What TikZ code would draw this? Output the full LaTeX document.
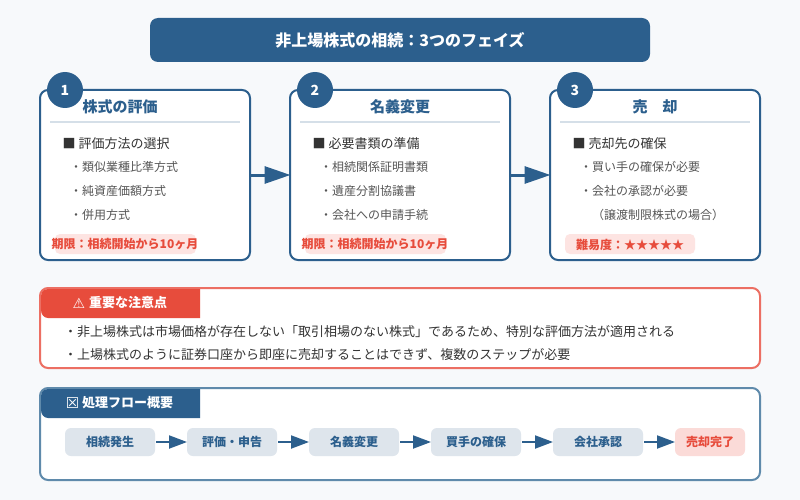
\documentclass[tikz,border=0pt]{standalone}
\usepackage{fontspec}
\setmainfont{Noto Sans CJK JP}
\newfontfamily\symfont{DejaVu Sans}
\usetikzlibrary{arrows.meta}
\definecolor{navy}{HTML}{2C5F8D}
\definecolor{redc}{HTML}{E74C3C}
\definecolor{redb}{HTML}{EC6F63}
\definecolor{blueb}{HTML}{5F8AAB}
\definecolor{bgc}{HTML}{F7F9FB}
\definecolor{sepc}{HTML}{D5DFE8}
\definecolor{tagc}{HTML}{FDE4E2}
\definecolor{pillc}{HTML}{DEE5EC}
\definecolor{pillr}{HTML}{FBDBD8}
\definecolor{ink}{HTML}{333333}
\definecolor{subc}{HTML}{555555}
\tikzset{
  x=1pt,y=-1pt,
  titlebox/.style={fill=navy,rounded corners=8pt,text=white,font=\fontsize{16}{16}\selectfont\bfseries,minimum width=500pt,minimum height=44pt,inner sep=0pt,outer sep=0pt},
  card/.style={draw=navy,line width=2pt,fill=white,rounded corners=8pt,minimum height=170pt,inner sep=0pt,outer sep=0pt},
  numc/.style={circle,fill=navy,text=white,minimum size=36pt,inner sep=0pt,font=\fontsize{14}{14}\selectfont\bfseries},
  cardtitle/.style={text=navy,font=\fontsize{15}{15}\selectfont\bfseries,inner sep=0pt},
  sect/.style={anchor=west,text=ink,font=\fontsize{13}{13}\selectfont,inner sep=0pt},
  subi/.style={anchor=west,text=subc,font=\fontsize{12}{12}\selectfont,inner sep=0pt},
  tagbox/.style={fill=tagc,rounded corners=5pt,minimum height=20pt,inner sep=0pt,outer sep=0pt},
  tagtxt/.style={text=redc,font=\fontsize{12}{12}\selectfont\bfseries,inner sep=0pt},
  sepl/.style={draw=sepc,line width=2pt},
  bigarrow/.style={draw=navy,line width=3pt,-{Triangle[length=26pt,width=17pt]},shorten >=-0.5pt},
  smallarrow/.style={draw=navy,line width=2pt,-{Triangle[length=18pt,width=13pt]}},
  panelr/.style={draw=redb,line width=2pt,fill=white,rounded corners=8pt,minimum width=720pt,minimum height=80pt,inner sep=0pt,outer sep=0pt},
  panelb/.style={draw=blueb,line width=2pt,fill=white,rounded corners=8pt,minimum width=720pt,minimum height=92pt,inner sep=0pt,outer sep=0pt},
  headtxt/.style={text=white,font=\fontsize{13}{13}\selectfont\bfseries,inner sep=0pt,anchor=west},
  bodytxt/.style={anchor=west,text=ink,font=\fontsize{13}{13}\selectfont,inner sep=0pt},
  pill/.style={fill=pillc,text=navy,rounded corners=6pt,minimum width=90pt,minimum height=28pt,inner sep=0pt,outer sep=0pt,font=\fontsize{12}{12}\selectfont\bfseries},
  pillend/.style={pill,fill=pillr,text=redc,minimum width=70pt},
}
\begin{document}
\begin{tikzpicture}
\useasboundingbox[fill=bgc] (0,0) rectangle (800,500);
\node[titlebox] (title) at (400,40) {非上場株式の相続：3つのフェイズ};
% cards
\node[card,minimum width=210pt] (c1) at (145,175) {};
\node[card,minimum width=220pt] (c2) at (400,175) {};
\node[card,minimum width=210pt] (c3) at (655,175) {};
\draw[bigarrow] (c1.east) -- (c2.west);
\draw[bigarrow] (c2.east) -- (c3.west);
% card 1
\node[numc] (n1) at (65,90) {1};
\node[cardtitle] (t1) at (120,106.5) {株式の評価};
\draw[sepl] (50,122) -- (240,122);
\node[sect] (s1) at (62.5,144) {■ 評価方法の選択};
\node[subi] (a1) at (70,167) {・類似業種比準方式};
\node[subi] (a2) at (70,191) {・純資産価額方式};
\node[subi] (a3) at (70,215) {・併用方式};
\node[tagbox,minimum width=141pt] (g1) at (125.5,244) {};
\node[tagtxt] (gt1) at (125,244.5) {期限：相続開始から10ヶ月};
% card 2
\node[numc] (n2) at (315,90) {2};
\node[cardtitle] (t2) at (400,106.5) {名義変更};
\draw[sepl] (300,122) -- (500,122);
\node[sect] (s2) at (312.5,144) {■ 必要書類の準備};
\node[subi] (b1) at (320,167) {・相続関係証明書類};
\node[subi] (b2) at (320,191) {・遺産分割協議書};
\node[subi] (b3) at (320,215) {・会社への申請手続};
\node[tagbox,minimum width=141pt] (g2) at (375.5,244) {};
\node[tagtxt] (gt2) at (375,244.5) {期限：相続開始から10ヶ月};
% card 3
\node[numc] (n3) at (575,90) {3};
\node[cardtitle] (t3) at (655,106.5) {売\hspace{15pt}却};
\draw[sepl] (560,122) -- (750,122);
\node[sect] (s3) at (572.5,144) {■ 売却先の確保};
\node[subi] (d1) at (580,167) {・買い手の確保が必要};
\node[subi] (d2) at (580,191) {・会社の承認が必要};
\node[subi] (d3) at (592,215) {（譲渡制限株式の場合）};
\node[tagbox,minimum width=130pt] (g3) at (630,244) {};
\node[tagtxt] (gt3) at (630,244.5) {難易度：★★★★★};
% alert panel
\node[panelr] (pr) at (400,328) {};
\fill[redc] (200,289) -- (48,289) to[out=180,in=90] (41,296) -- (41,310) to[out=-90,in=180] (48,318) -- (200,318) -- cycle;
\node[text=white,inner sep=0pt] (ir) at (79,303) {\symfont\fontsize{14}{14}\selectfont ⚠};
\node[headtxt] (hr) at (89,303) {重要な注意点};
\node[bodytxt] (r1) at (64,331.5) {・非上場株式は市場価格が存在しない「取引相場のない株式」であるため、特別な評価方法が適用される};
\node[bodytxt] (r2) at (64,354.5) {・上場株式のように証券口座から即座に売却することはできず、複数のステップが必要};
% flow panel
\node[panelb] (pb) at (400,434) {};
\fill[navy] (200,389) -- (48,389) to[out=180,in=90] (41,396) -- (41,410) to[out=-90,in=180] (48,418) -- (200,418) -- cycle;
\node[text=white,inner sep=0pt] (ib) at (72.5,403.5) {\symfont\fontsize{15}{15}\selectfont ☒};
\node[headtxt] (hb) at (82,403) {処理フロー概要};
\node[pill] (f1) at (110,442) {相続発生};
\node[pill] (f2) at (232,442) {評価・申告};
\node[pill] (f3) at (354,442) {名義変更};
\node[pill] (f4) at (476,442) {買手の確保};
\node[pill] (f5) at (598,442) {会社承認};
\node[pillend] (f6) at (710,442) {売却完了};
\draw[smallarrow,shorten <=1pt] (f1) -- (f2);
\draw[smallarrow,shorten <=1pt] (f2) -- (f3);
\draw[smallarrow,shorten <=1pt] (f3) -- (f4);
\draw[smallarrow,shorten <=1pt] (f4) -- (f5);
\draw[smallarrow,shorten <=1pt] (f5) -- (f6);
\end{tikzpicture}
\end{document}
